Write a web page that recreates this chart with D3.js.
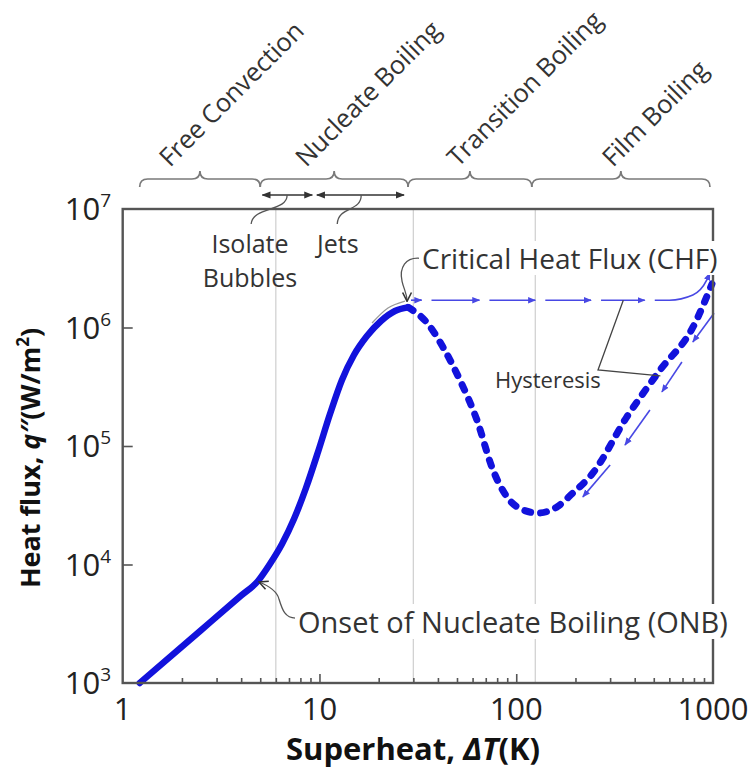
<!DOCTYPE html>
<html>
<head>
<meta charset="utf-8">
<script src="https://cdn.jsdelivr.net/npm/d3@7"></script>
<style>
  html, body { margin: 0; padding: 0; background: #fff; }
  svg { display: block; font-family: "Open Sans", "Noto Sans", sans-serif; }
</style>
</head>
<body>
<svg id="chart" width="755" height="769"></svg>
<script>
// Pool boiling curve: wall superheat ΔT (K) against heat flux q'' (W/m²), log-log.

// Free convection + nucleate boiling branch, up to the critical heat flux
const nucleateT = [1.22, 2.5, 4.0, 4.87, 5.6, 6.45, 7.42, 8.54, 9.83, 11.31, 13.01, 14.97, 17.43, 20.54, 24.19, 28.2];
const nucleateQ = [1.0e3, 2.79e3, 5.47e3, 7.26e3, 1.01e4, 1.49e4, 2.42e4, 4.42e4, 8.9e4, 1.86e5, 3.61e5, 5.86e5, 8.47e5, 1.135e6, 1.377e6, 1.48e6];

// Transition boiling (CHF down to the minimum) and film boiling
const transitionT = [28.2, 35.3, 42.4, 51.7, 63.1, 76.2, 89.8, 108, 129];
const transitionQ = [1.48e6, 1.09e6, 6.84e5, 3.61e5, 1.66e5, 6.26e4, 3.71e4, 2.89e4, 2.72e4];
const filmT = [129, 161, 194, 243, 365, 538, 792, 988];
const filmQ = [2.72e4, 3.06e4, 4.01e4, 5.8e4, 1.76e5, 4.37e5, 1.01e6, 2.33e6];

// Hysteresis: heating jump at CHF over to film boiling, and the cooling return
const heatingPathT = [28.5, 600, 790, 930, 964];
const heatingPathQ = [1.7e6, 1.7e6, 1.88e6, 2.52e6, 2.88e6];
const heatingArrowT = [33, 65, 125, 240, 450];
const coolFromT = [1012, 695, 478, 300];
const coolFromQ = [1.32e6, 5.12e5, 2.01e5, 6.92e4];
const coolToT = [790, 550, 357, 218];
const coolToQ = [7.55e5, 2.86e5, 1.02e5, 3.72e4];

// Regime boundaries (ΔT) and their names
const regimeBounds = [1.22, 5, 28.2, 120, 965];
const regimeNames = ["Free Convection", "Nucleate Boiling", "Transition Boiling", "Film Boiling"];
const bubbleRange = [5.13, 9.2];
const jetRange = [9.7, 26.9];
const gridT = [6, 30, 125];

// Axis ticks
const xTickLabels = [1, 10, 100, 1000];
const xMinorTicks = [2,3,4,5,6,7,8,9,20,30,40,50,60,70,80,90,200,300,400,500,600,700,800,900];
const yTickValues = [1e3, 1e4, 1e5, 1e6, 1e7];
const yTickExp = ["3", "4", "5", "6", "7"];

const svg = d3.select("#chart");
const M = { left: 122.7, right: 713, top: 209, bottom: 683 };
const x = d3.scaleLog().domain([1, 1000]).range([M.left, M.right]);
const y = d3.scaleLog().domain([1e3, 1e7]).range([M.bottom, M.top]);

const BLUE = "#1212dc", HBLUE = "#4848e4", INK = "#333", FRAME = "#555";

// ---- markers
const defs = svg.append("defs");
defs.append("marker").attr("id", "hArrow")
  .attr("viewBox", "0 0 10 10").attr("refX", 9).attr("refY", 5)
  .attr("markerWidth", 8).attr("markerHeight", 8)
  .attr("markerUnits", "userSpaceOnUse").attr("orient", "auto")
  .append("path").attr("d", "M0,1 L10,5 L0,9 Z").attr("fill", HBLUE);
defs.append("marker").attr("id", "kArrow")
  .attr("viewBox", "0 0 10 10").attr("refX", 9).attr("refY", 5)
  .attr("markerWidth", 9).attr("markerHeight", 9)
  .attr("markerUnits", "userSpaceOnUse").attr("orient", "auto-start-reverse")
  .append("path").attr("d", "M0,1 L10,5 L0,9 Z").attr("fill", INK);
defs.append("marker").attr("id", "vArrow")
  .attr("viewBox", "0 0 10 10").attr("refX", 9).attr("refY", 5)
  .attr("markerWidth", 11).attr("markerHeight", 11)
  .attr("markerUnits", "userSpaceOnUse").attr("orient", "auto")
  .append("path").attr("d", "M1,1 L9,5 L1,9").attr("fill", "none")
  .attr("stroke", INK).attr("stroke-width", 1.4);

// ---- regime separators
svg.append("g").selectAll("line").data(gridT).join("line")
  .attr("x1", d => x(d)).attr("x2", d => x(d))
  .attr("y1", M.top).attr("y2", M.bottom)
  .attr("stroke", "#d2d2d2").attr("stroke-width", 1.3);

// ---- curves
const curve = d3.line().x(d => x(d[0])).y(d => y(d[1])).curve(d3.curveMonotoneX);

// thin grey approach arc above the CHF peak
svg.append("path")
  .attr("d", d3.line().x(d => x(d[0])).y(d => y(d[1])).curve(d3.curveNatural)([[18.5, 1.09e6], [22.3, 1.46e6], [27.2, 1.67e6]]))
  .attr("fill", "none").attr("stroke", "#9a9a9a").attr("stroke-width", 1.3);

svg.append("path")
  .attr("d", curve(d3.zip(nucleateT, nucleateQ)))
  .attr("fill", "none").attr("stroke", BLUE).attr("stroke-width", 6.5)
  .attr("stroke-linecap", "round");

const postCHF = d3.zip(transitionT, transitionQ).concat(d3.zip(filmT, filmQ).slice(1));
svg.append("path")
  .attr("d", curve(postCHF))
  .attr("fill", "none").attr("stroke", BLUE).attr("stroke-width", 7)
  .attr("stroke-dasharray", "6 10").attr("stroke-linecap", "round");

// heating path: horizontal jump at CHF, arrowheads along the way
const hq = heatingPathQ[0];
const stops = [heatingPathT[0]].concat(heatingArrowT);
const hyst = svg.append("g").attr("fill", "none").attr("stroke", HBLUE).attr("stroke-width", 1.6);
for (let i = 0; i < stops.length - 1; i++) {
  // dash, short gap, then the arrowhead
  hyst.append("line")
    .attr("x1", x(stops[i]) + (i === 0 ? 2 : 10)).attr("x2", x(stops[i + 1]) - (i === 0 ? 0 : 4))
    .attr("y1", y(hq)).attr("y2", y(hq));
  hyst.append("line")
    .attr("x1", x(stops[i + 1]) - 2).attr("x2", x(stops[i + 1]))
    .attr("y1", y(hq)).attr("y2", y(hq))
    .attr("marker-end", "url(#hArrow)");
}
const lastStop = stops[stops.length - 1];
const tail = [[x.invert(x(lastStop) + 10), hq]].concat(d3.zip(heatingPathT, heatingPathQ).filter(d => d[0] > lastStop));
hyst.append("path").attr("d", curve(tail)).attr("marker-end", "url(#hArrow)");

// cooling return arrows alongside the film-boiling branch
hyst.selectAll("line.cool").data(d3.range(coolFromT.length)).join("line").attr("class", "cool")
  .attr("x1", i => x(coolFromT[i])).attr("y1", i => y(coolFromQ[i]))
  .attr("x2", i => x(coolToT[i])).attr("y2", i => y(coolToQ[i]))
  .attr("marker-end", "url(#hArrow)");

// ---- frame and ticks
svg.append("rect")
  .attr("x", M.left).attr("y", M.top)
  .attr("width", M.right - M.left).attr("height", M.bottom - M.top)
  .attr("fill", "none").attr("stroke", FRAME).attr("stroke-width", 2.4);

function styleAxis(g) {
  g.select(".domain").remove();
  g.selectAll(".tick line").attr("stroke", FRAME).attr("stroke-width", 1.6);
}
svg.append("g").attr("transform", `translate(0,${M.bottom})`)
  .call(d3.axisBottom(x).tickValues(xMinorTicks).tickSize(-5).tickFormat(""))
  .call(styleAxis);
svg.append("g").attr("transform", `translate(0,${M.bottom})`)
  .call(d3.axisBottom(x).tickValues([10, 100]).tickSize(-9).tickFormat(""))
  .call(styleAxis);
svg.append("g").attr("transform", `translate(${M.left},0)`)
  .call(d3.axisLeft(y).tickValues(yTickValues.slice(1, -1)).tickSize(-10).tickFormat(""))
  .call(styleAxis);

// tick labels
svg.append("g").selectAll("text").data(xTickLabels).join("text")
  .attr("x", d => x(d)).attr("y", 720)
  .attr("text-anchor", "middle").attr("font-size", 31).attr("fill", "#222")
  .text(d => d);

const yl = svg.append("g").selectAll("text").data(yTickValues).join("text")
  .attr("x", 111).attr("y", d => y(d) + 11)
  .attr("text-anchor", "end").attr("font-size", 31).attr("fill", "#222");
yl.append("tspan").text("10");
yl.append("tspan").attr("font-size", 19).attr("dy", -13).text((d, i) => yTickExp[i]);

// axis titles
const xt = svg.append("text").attr("x", 413).attr("y", 760)
  .attr("text-anchor", "middle").attr("font-size", 31).attr("font-weight", "bold").attr("fill", "#111");
xt.append("tspan").text("Superheat, ");
xt.append("tspan").attr("font-style", "italic").text("ΔT");
xt.append("tspan").text("(K)");

const yt = svg.append("text").attr("transform", "translate(40,458) rotate(-90)")
  .attr("text-anchor", "middle").attr("font-size", 27).attr("font-weight", "bold").attr("fill", "#111");
yt.append("tspan").text("Heat flux, ");
yt.append("tspan").attr("font-style", "italic").text("q″");
yt.append("tspan").text("(W/m");
yt.append("tspan").attr("font-size", 17).attr("dy", -11).text("2");
yt.append("tspan").attr("dy", 11).text(")");

// ---- regime braces and rotated names above the plot
const braceY = 179;
function bracePath(x0, x1) {
  const m = (x0 + x1) / 2;
  return `M${x0},${braceY + 8} Q${x0},${braceY} ${x0 + 8},${braceY} L${m - 8},${braceY} ` +
         `Q${m},${braceY} ${m},${braceY - 8} Q${m},${braceY} ${m + 8},${braceY} ` +
         `L${x1 - 8},${braceY} Q${x1},${braceY} ${x1},${braceY + 8}`;
}
const labelShift = [-30, -28, -12, -8];
regimeNames.forEach((name, i) => {
  const x0 = x(regimeBounds[i]), x1 = x(regimeBounds[i + 1]);
  svg.append("path").attr("d", bracePath(x0, x1))
    .attr("fill", "none").attr("stroke", "#7a7a7a").attr("stroke-width", 1.7);
  svg.append("text")
    .attr("transform", `translate(${(x0 + x1) / 2 + labelShift[i]},168) rotate(-45)`)
    .attr("font-size", 25.5).attr("fill", INK).text(name);
});

// isolated bubbles / jets ranges
const arrY = 195;
[bubbleRange, jetRange].forEach(r => {
  svg.append("line")
    .attr("x1", x(r[0])).attr("x2", x(r[1])).attr("y1", arrY).attr("y2", arrY)
    .attr("stroke", INK).attr("stroke-width", 1.6)
    .attr("marker-start", "url(#kArrow)").attr("marker-end", "url(#kArrow)");
});
const leader = svg.append("g").attr("fill", "none").attr("stroke", "#555").attr("stroke-width", 1.3);
const bx = x(6.85), jx = x(16.3);
leader.append("path").attr("d", `M${bx},${arrY} C${bx},${arrY + 17} ${bx - 34},${arrY + 11} ${bx - 36},${arrY + 29}`);
leader.append("path").attr("d", `M${jx},${arrY} C${jx},${arrY + 17} ${jx - 23},${arrY + 11} ${jx - 24},${arrY + 29}`);

const ann = svg.append("g").attr("fill", INK);
ann.append("text").attr("x", 250).attr("y", 253).attr("text-anchor", "middle").attr("font-size", 25).text("Isolate");
ann.append("text").attr("x", 250).attr("y", 287).attr("text-anchor", "middle").attr("font-size", 25).text("Bubbles");
ann.append("text").attr("x", 317).attr("y", 253).attr("font-size", 25).text("Jets");

function withBackground(t, pad) {
  const b = t.node().getBBox();
  svg.insert("rect", () => t.node())
    .attr("x", b.x - pad).attr("y", b.y + 2).attr("width", b.width + 2 * pad).attr("height", b.height - 4)
    .attr("fill", "#fff");
}

// CHF annotation
const chf = [x(28.2) - 1, y(1.48e6) - 6];
leader.append("path")
  .attr("d", `M${chf[0] + 14},${chf[1] - 43} C${chf[0] - 2},${chf[1] - 45} ${chf[0] - 8},${chf[1] - 33} ${chf[0] - 5},${chf[1] - 20} ` +
             `C${chf[0] - 3},${chf[1] - 11} ${chf[0]},${chf[1] - 8} ${chf[0]},${chf[1]}`)
  .attr("marker-end", "url(#vArrow)");
const chfText = svg.append("text").attr("x", 422).attr("y", 269).attr("font-size", 28).attr("fill", INK)
  .text("Critical Heat Flux (CHF)");
withBackground(chfText, 3);

// ONB annotation
const onb = [x(4.87) + 1, y(7.26e3) + 1];
leader.append("path")
  .attr("d", `M${onb[0] + 38},${onb[1] + 36} C${onb[0] + 26},${onb[1] + 37} ${onb[0] + 23},${onb[1] + 27} ${onb[0] + 20},${onb[1] + 17} ` +
             `C${onb[0] + 18},${onb[1] + 9} ${onb[0] + 10},${onb[1] + 4} ${onb[0]},${onb[1]}`)
  .attr("marker-end", "url(#vArrow)");
const onbText = svg.append("text").attr("x", 298).attr("y", 633).attr("font-size", 29).attr("fill", INK)
  .text("Onset of Nucleate Boiling (ONB)");
withBackground(onbText, 3);

// Hysteresis label with leaders to both paths
const hv = [598, 370];
leader.append("polyline")
  .attr("points", `${x(350)},${y(hq)} ${hv[0]},${hv[1]} ${x(540)},${y(3.9e5)}`)
  .attr("stroke", "#444");
svg.append("text").attr("x", 495).attr("y", 388).attr("font-size", 22).attr("fill", INK).text("Hysteresis");
</script>
</body>
</html>
